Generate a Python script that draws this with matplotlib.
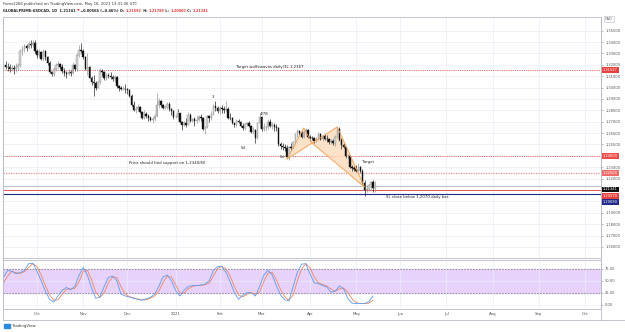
import matplotlib
matplotlib.use("Agg")
import matplotlib.pyplot as plt
import numpy as np
import pandas as pd

# ── Data ──────────────────────────────────────────────────────────────────────
START = "2020-09-09"
FIRST_OPEN = 1.3165

closes = [
    1.3200, 1.3185, 1.3180,
    1.3165, 1.3175, 1.3160, 1.3180, 1.3195,
    1.3325, 1.3340, 1.3365, 1.3350, 1.3385,
    1.3375, 1.3395, 1.3320, 1.3290, 1.3310,
    1.3255, 1.3320, 1.3265, 1.3215, 1.3140,
    1.3120, 1.3165, 1.3195, 1.3205, 1.3180,
    1.3145, 1.3125, 1.3120, 1.3140, 1.3130,
    1.3200, 1.3160, 1.3290, 1.3330, 1.3320,
    1.3270, 1.3165, 1.3185, 1.3085, 1.3050,
    1.3040, 1.3000, 1.3045, 1.3145, 1.3135,
    1.3085, 1.3110, 1.3100, 1.3095, 1.3075,
    1.3090, 1.3010, 1.3000, 1.2990, 1.2990,
    1.2985, 1.2980, 1.2930, 1.2850, 1.2805,
    1.2810, 1.2830, 1.2785, 1.2735, 1.2770,
    1.2750, 1.2735, 1.2715, 1.2725, 1.2750,
    1.2845, 1.2885, 1.2845, 1.2820, 1.2830,
    1.2860, 1.2810, 1.2790, 1.2740, 1.2740,
    1.2775, 1.2700, 1.2670, 1.2690, 1.2675,
    1.2760, 1.2710, 1.2720, 1.2705, 1.2715,
    1.2745, 1.2730, 1.2635, 1.2655, 1.2750,
    1.2730, 1.2770, 1.2840, 1.2825, 1.2790,
    1.2820, 1.2810, 1.2805, 1.2815, 1.2735,
    1.2730, 1.2690, 1.2670, 1.2705, 1.2695,
    1.2665, 1.2645, 1.2680, 1.2685, 1.2660,
    1.2610, 1.2625, 1.2555, 1.2690, 1.2745,
    1.2640, 1.2650, 1.2650, 1.2700, 1.2660,
    1.2670, 1.2650, 1.2645, 1.2500, 1.2485,
    1.2475, 1.2470, 1.2390, 1.2480, 1.2470,
    1.2520, 1.2590, 1.2615, 1.2600, 1.2570,
    1.2610, 1.2630, 1.2570, 1.2560, 1.2555,
    1.2535, 1.2545, 1.2595, 1.2550, 1.2575,
    1.2550, 1.2545, 1.2520, 1.2530, 1.2510,
    1.2570, 1.2640, 1.2540, 1.2495, 1.2480,
    1.2395, 1.2400, 1.2300, 1.2290, 1.2285,
    1.2270, 1.2300, 1.2270, 1.2165, 1.2100,
    1.2110, 1.2140, 1.2170, 1.2120, 1.2134,
]

highs = [
    1.3225, 1.3235, 1.3215,
    1.3210, 1.3200, 1.3195, 1.3220, 1.3215,
    1.3340, 1.3365, 1.3380, 1.3385, 1.3410,
    1.3420, 1.3415, 1.3420, 1.3340, 1.3340,
    1.3320, 1.3340, 1.3330, 1.3280, 1.3230,
    1.3150, 1.3180, 1.3215, 1.3230, 1.3215,
    1.3210, 1.3170, 1.3145, 1.3160, 1.3155,
    1.3225, 1.3210, 1.3300, 1.3370, 1.3390,
    1.3340, 1.3280, 1.3300, 1.3190, 1.3100,
    1.3110, 1.3060, 1.3055, 1.3170, 1.3160,
    1.3145, 1.3125, 1.3130, 1.3140, 1.3115,
    1.3110, 1.3100, 1.3025, 1.3015, 1.3010,
    1.3035, 1.3000, 1.2990, 1.2945, 1.2880,
    1.2835, 1.2855, 1.2840, 1.2795, 1.2800,
    1.2785, 1.2770, 1.2750, 1.2740, 1.2770,
    1.2955, 1.2905, 1.2890, 1.2860, 1.2840,
    1.2870, 1.2870, 1.2825, 1.2800, 1.2760,
    1.2800, 1.2780, 1.2710, 1.2705, 1.2730,
    1.2785, 1.2775, 1.2730, 1.2740, 1.2755,
    1.2760, 1.2765, 1.2740, 1.2665, 1.2760,
    1.2760, 1.2790, 1.2860, 1.2880, 1.2840,
    1.2840, 1.2845, 1.2840, 1.2880, 1.2830,
    1.2780, 1.2745, 1.2700, 1.2720, 1.2725,
    1.2705, 1.2690, 1.2690, 1.2700, 1.2705,
    1.2675, 1.2650, 1.2640, 1.2700, 1.2765,
    1.2750, 1.2690, 1.2665, 1.2720, 1.2720,
    1.2700, 1.2690, 1.2680, 1.2655, 1.2525,
    1.2510, 1.2500, 1.2495, 1.2490, 1.2510,
    1.2530, 1.2600, 1.2635, 1.2625, 1.2615,
    1.2615, 1.2645, 1.2635, 1.2585, 1.2575,
    1.2570, 1.2565, 1.2610, 1.2600, 1.2585,
    1.2590, 1.2580, 1.2560, 1.2545, 1.2550,
    1.2580, 1.2655, 1.2650, 1.2560, 1.2510,
    1.2490, 1.2420, 1.2410, 1.2320, 1.2310,
    1.2320, 1.2340, 1.2315, 1.2285, 1.2185,
    1.2140, 1.2150, 1.2180, 1.2185, 1.2179,
]

lows = [
    1.3145, 1.3160, 1.3150,
    1.3140, 1.3145, 1.3120, 1.3135, 1.3155,
    1.3185, 1.3290, 1.3310, 1.3320, 1.3335,
    1.3345, 1.3355, 1.3300, 1.3260, 1.3265,
    1.3240, 1.3230, 1.3240, 1.3200, 1.3130,
    1.3100, 1.3105, 1.3150, 1.3165, 1.3160,
    1.3130, 1.3105, 1.3080, 1.3110, 1.3105,
    1.3120, 1.3150, 1.3145, 1.3270, 1.3300,
    1.3250, 1.3155, 1.3110, 1.3080, 1.3020,
    1.2930, 1.2980, 1.2995, 1.3030, 1.3105,
    1.3070, 1.3065, 1.3080, 1.3075, 1.3060,
    1.3050, 1.3000, 1.2970, 1.2975, 1.2975,
    1.2955, 1.2940, 1.2920, 1.2840, 1.2790,
    1.2780, 1.2795, 1.2775, 1.2720, 1.2720,
    1.2730, 1.2710, 1.2705, 1.2690, 1.2710,
    1.2745, 1.2825, 1.2830, 1.2810, 1.2815,
    1.2815, 1.2795, 1.2760, 1.2725, 1.2730,
    1.2715, 1.2690, 1.2630, 1.2660, 1.2655,
    1.2670, 1.2700, 1.2695, 1.2660, 1.2690,
    1.2705, 1.2710, 1.2625, 1.2590, 1.2645,
    1.2700, 1.2715, 1.2755, 1.2790, 1.2775,
    1.2770, 1.2780, 1.2780, 1.2790, 1.2720,
    1.2715, 1.2680, 1.2650, 1.2655, 1.2685,
    1.2655, 1.2625, 1.2630, 1.2660, 1.2650,
    1.2600, 1.2590, 1.2510, 1.2550, 1.2645,
    1.2620, 1.2615, 1.2620, 1.2640, 1.2650,
    1.2640, 1.2620, 1.2615, 1.2490, 1.2460,
    1.2455, 1.2440, 1.2380, 1.2365, 1.2455,
    1.2465, 1.2505, 1.2570, 1.2580, 1.2555,
    1.2555, 1.2595, 1.2560, 1.2535, 1.2540,
    1.2510, 1.2520, 1.2540, 1.2540, 1.2535,
    1.2540, 1.2525, 1.2500, 1.2505, 1.2495,
    1.2485, 1.2555, 1.2530, 1.2460, 1.2465,
    1.2385, 1.2375, 1.2295, 1.2270, 1.2265,
    1.2260, 1.2255, 1.2250, 1.2150, 1.2050,
    1.2080, 1.2095, 1.2100, 1.2080, 1.2080,
]

# Stochastic RSI, one reading every second bar
stoch_k = [57, 72, 70, 65, 67, 72, 86, 87, 70, 50, 28, 11, 5, 18, 30, 36, 31, 38,
           62, 78, 62, 35, 13, 16, 38, 57, 60, 50, 22, 18, 16, 13, 11, 9, 12, 15,
           22, 38, 58, 62, 50, 30, 18, 30, 38, 40, 40, 41, 43, 50, 72, 80, 80, 68,
           48, 25, 11, 20, 25, 25, 18, 38, 62, 72, 62, 40, 20, 10, 8, 38, 68, 85,
           86, 65, 46, 44, 40, 37, 26, 28, 39, 33, 13, 3, 2, 2, 2, 6, 18]
stoch_d = [45, 60, 70, 67, 66, 69, 78, 86, 80, 62, 40, 20, 9, 10, 22, 32, 33, 34,
           48, 70, 72, 52, 26, 15, 25, 46, 58, 57, 38, 22, 17, 14, 12, 10, 10, 13,
           18, 28, 46, 60, 58, 42, 25, 24, 33, 38, 40, 40, 42, 45, 60, 76, 80, 75,
           60, 38, 20, 16, 22, 25, 22, 26, 48, 66, 68, 52, 32, 16, 9, 20, 50, 75,
           86, 78, 58, 46, 42, 39, 33, 28, 33, 35, 26, 12, 4, 2, 2, 3, 9]

# harmonic pattern X A B C D
pattern_dates = ["2021-03-17", "2021-03-29", "2021-04-02", "2021-04-20", "2021-05-07"]
pattern_prices = [1.2372, 1.2645, 1.2513, 1.2654, 1.2126]

red_levels = [1.31527, 1.24000]
pink_level = 1.22500
last_price = 1.21341
sl_red, sl_blue = 1.20970, 1.20690

price_ticks = [round(1.16 + 0.01 * i, 2) for i in range(20)]
hidden_ticks = [1.24, 1.21, 1.20]          # covered by the coloured price tags
month_labels = ["Oct", "Nov", "Dec", "2021", "Feb", "Mar", "Apr", "May",
                "Jun", "Jul", "Aug", "Sep", "Oct"]
month_starts = ["2020-10-01", "2020-11-01", "2020-12-01", "2021-01-01", "2021-02-01",
                "2021-03-01", "2021-04-01", "2021-05-01", "2021-06-01", "2021-07-01",
                "2021-08-01", "2021-09-01", "2021-10-01"]

# ── Layout helpers ────────────────────────────────────────────────────────────
W, H = 625, 332
GRID = "#e9eef4"
FS = 2.8


def box(x0, y0, x1, y1):
    return [x0 / W, 1 - y1 / H, (x1 - x0) / W, (y1 - y0) / H]


dates = pd.bdate_range(START, periods=300)


def bar_of(day):
    return int(np.searchsorted(dates.values, pd.Timestamp(day).to_datetime64()))


fig = plt.figure(figsize=(6.25, 3.32), dpi=100)
ax = fig.add_axes(box(3, 17, 601, 258))
axo = fig.add_axes(box(3, 260, 601, 309))

XLIM = (-0.2, 284.6)
month_pos = [bar_of(m) for m in month_starts]
for a in (ax, axo):
    a.set_xlim(*XLIM)
    for s in a.spines.values():
        s.set_color("#b8bcc6")
        s.set_linewidth(0.6)
    a.tick_params(axis="x", length=0, labelbottom=False)
    a.yaxis.tick_right()
    a.tick_params(axis="y", length=1.5, width=0.4, color="#888", labelsize=2.6,
                  labelcolor="#555", pad=1.5)
    a.set_xticks(month_pos)
    a.grid(True, color=GRID, lw=0.5)
    a.set_axisbelow(True)

# ── Price panel ───────────────────────────────────────────────────────────────
ax.set_ylim(1.15026, 1.36204)
ax.set_yticks(price_ticks)
ax.set_yticklabels(["" if t in hidden_ticks else f"{t:.5f}" for t in price_ticks])

c = np.array(closes)
o = np.array([FIRST_OPEN] + closes[:-1])
hi = np.array(highs)
lo = np.array(lows)
idx = np.arange(len(c))
up = c >= o
ax.vlines(idx, lo, hi, colors=np.where(up, "#8d8d8d", "#111111"), lw=0.45, zorder=3)
body_h = np.maximum(np.abs(c - o), 0.00012)
ax.bar(idx, body_h, bottom=np.minimum(o, c), width=0.7,
       color=np.where(up, "#d4d4d4", "#111111"),
       edgecolor=np.where(up, "#8d8d8d", "#111111"), linewidth=0.3, zorder=4)

# harmonic pattern triangles
px = [bar_of(d) for d in pattern_dates]
py = pattern_prices
for tri in ((0, 1, 2), (2, 3, 4)):
    xs = [px[i] for i in tri]
    ys = [py[i] for i in tri]
    ax.fill(xs, ys, color="#fcd9b6", alpha=0.75, zorder=2)
    ax.plot(xs + xs[:1], ys + ys[:1], color="#f5a55a", lw=0.6, zorder=5)

# horizontal levels
for lv in red_levels:
    ax.axhline(lv, color="#e0403c", lw=0.6, ls=(0, (1, 1.2)), zorder=1)
ax.axhline(pink_level, color="#f08f8f", lw=0.9, ls=(0, (1, 1)), zorder=1)
ax.axhline(last_price, color="#9da3ad", lw=0.5, zorder=1)
ax.axhline(sl_red, color="#e0403c", lw=0.6, zorder=1)
ax.axhline(sl_blue, color="#1f2a8a", lw=0.8, zorder=1)

# text annotations
ann = dict(fontsize=FS, color="#222", zorder=6)
ax.text(bar_of("2021-02-11"), 1.3166, "Target wolfewaves daily(3L 1,2367", va="bottom", **ann)
ax.text(bar_of("2020-12-02"), 1.2337, "Price should find support on 1,2340/60", va="center", **ann)
ax.text(bar_of("2021-05-06"), 1.2346, "Target", va="center", **ann)
ax.text(bar_of("2021-05-21"), 1.2037, "SL close below 1,2070 daily bar.", va="center", **ann)
ax.text(bar_of("2021-01-27"), 1.2917, "3", ha="center", va="center", **ann)
ax.text(bar_of("2021-01-04"), 1.2794, "1", ha="center", va="center", **ann)
ax.text(bar_of("2021-03-02"), 1.2768, "4/78", ha="center", va="center", **ann)
ax.text(bar_of("2021-02-16"), 1.2469, "5d", ha="center", va="center", **ann)
ax.text(bar_of("2021-03-15"), 1.2390, "5d", ha="center", va="center", **ann)

# right-scale price tags
tr = ax.get_yaxis_transform()
tags = [(1.31527, 0, "#e8403c"), (1.24000, 0, "#ef4c48"), (1.22500, 0, "#f06b67"),
        (last_price, -2.4, "#111111"), (sl_red, -3.8, "#e8403c"), (sl_blue, -5.9, "#1f2a8a")]
for val, dy, col in tags:
    ax.annotate(f"{val:.5f}", xy=(1.0, val), xycoords=tr, xytext=(1.5, dy),
                textcoords="offset points", fontsize=2.6, color="white",
                va="center", ha="left", annotation_clip=False,
                bbox=dict(boxstyle="square,pad=0.25", fc=col, ec="none"))
ax.annotate("CAD", xy=(1.0, 1.36), xycoords=tr, xytext=(3, 0), textcoords="offset points",
            fontsize=2.6, color="#555", va="center", annotation_clip=False,
            bbox=dict(boxstyle="square,pad=0.3", fc="white", ec="#b8bcc6", lw=0.4))

# ── Stochastic RSI panel ──────────────────────────────────────────────────────
axo.set_ylim(-9.4, 93.8)
axo.set_yticks([0, 25, 50, 75])
axo.set_yticklabels(["0.00", "25.00", "50.00", "75.00"])
axo.axhspan(25, 75, color="#e7d2fb", zorder=0)
axo.axhline(75, color="#8e7c98", lw=0.6, ls=(0, (2, 1.5)))
axo.axhline(25, color="#8e7c98", lw=0.6, ls=(0, (2, 1.5)))
sx = np.arange(len(stoch_k)) * 2
axo.plot(sx, stoch_d, color="#f2845f", lw=0.6)
axo.plot(sx, stoch_k, color="#5b9cf0", lw=0.6)

for p, lab in zip(month_pos, month_labels):
    axo.text(p, -0.1, lab, transform=axo.get_xaxis_transform(), fontsize=2.8,
             color="#555", ha="center", va="center", clip_on=False)

# outer frame of the chart widget
fig.add_artist(plt.Line2D([3 / W, 625 / W], [1 - 320 / H] * 2, color="#b8bcc6", lw=0.6))
fig.add_artist(plt.Line2D([3 / W, 3 / W], [1 - 320 / H, 1 - 17 / H], color="#b8bcc6", lw=0.6))
fig.add_artist(plt.Line2D([601 / W, 601 / W], [1 - 320 / H, 1 - 17 / H], color="#b8bcc6", lw=0.6))

# ── Header ────────────────────────────────────────────────────────────────────
fig.text(3 / W, 1 - 4.5 / H, "Forex2266 published on TradingView.com, May 16, 2021 13:31:06 UTC",
         fontsize=2.7, color="#333", va="center")
renderer = fig.canvas.get_renderer()
x = 3 / W
pieces = [("GLOBALPRIME:USDCAD, 1D  1.21341 ", "#222"), ("▼", "#e8403c"),
          (" \u22120.00566 (\u22120.46%) O: ", "#222"), ("1.21592", "#e8403c"),
          (" H: ", "#222"), ("1.21789", "#e8403c"), (" L: ", "#222"),
          ("1.20800", "#e8403c"), (" C: ", "#222"), ("1.21341", "#e8403c")]
for s, col in pieces:
    t = fig.text(x, 1 - 11 / H, s, fontsize=2.5, color=col, va="center", fontweight="bold")
    x += t.get_window_extent(renderer).width / fig.bbox.width

fig.text(12 / W, 1 - 326 / H, "TradingView", fontsize=2.8, color="#333", va="center")
fig.patches.append(plt.Rectangle((4 / W, 1 - 328 / H), 6 / W, 4 / H, transform=fig.transFigure,
                                 color="#2a8ae0", figure=fig))

fig.savefig("out.png", dpi=100)
